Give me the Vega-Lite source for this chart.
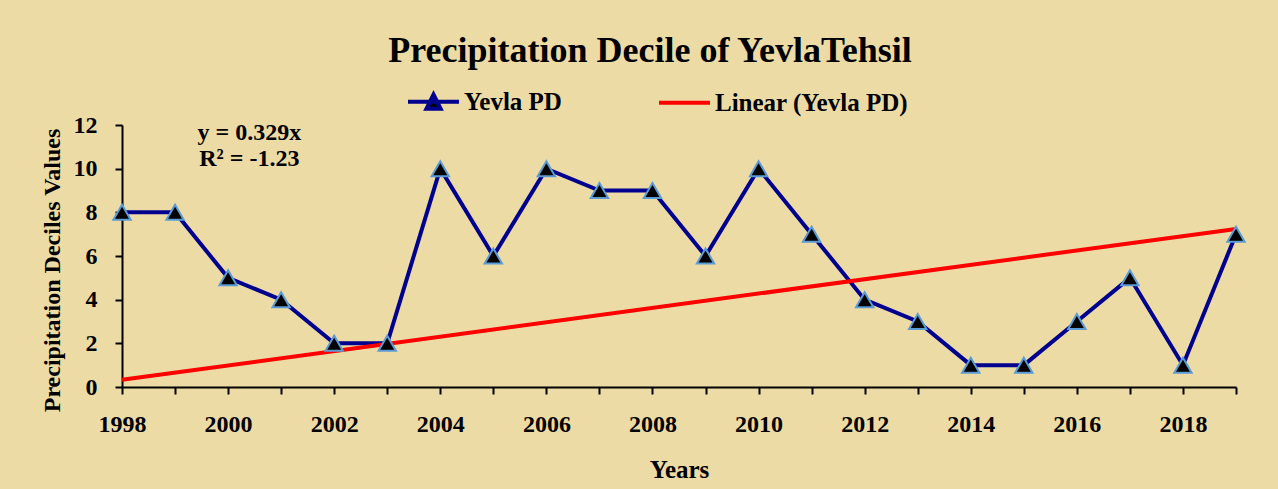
{
  "$schema": "https://vega.github.io/schema/vega-lite/v6.json",
  "autosize": {"type": "none"},
  "padding": {"left": 122, "top": 125, "right": 42, "bottom": 102},
  "width": 1114,
  "height": 262,
  "background": "#EDDBA6",
  "config": {
    "view": {"stroke": null},
    "font": "Liberation Serif",
    "axis": {
      "domainColor": "#000000",
      "domainWidth": 2,
      "tickColor": "#000000",
      "tickWidth": 2,
      "tickSize": 7,
      "grid": false,
      "labelFont": "Liberation Serif",
      "labelFontWeight": "bold",
      "labelFontSize": 24,
      "labelColor": "#000000",
      "titleFont": "Liberation Serif",
      "titleFontWeight": "bold",
      "titleFontSize": 25,
      "titleColor": "#000000"
    }
  },
  "title": {
    "text": "Precipitation Decile of YevlaTehsil",
    "font": "Liberation Serif",
    "fontSize": 36,
    "fontWeight": "bold",
    "color": "#000000",
    "anchor": "middle",
    "frame": "group",
    "dx": -29,
    "offset": 4
  },
  "data": {
    "values": [
      {"year": 1998, "value": 8, "series": "Yevla PD"},
      {"year": 1999, "value": 8, "series": "Yevla PD"},
      {"year": 2000, "value": 5, "series": "Yevla PD"},
      {"year": 2001, "value": 4, "series": "Yevla PD"},
      {"year": 2002, "value": 2, "series": "Yevla PD"},
      {"year": 2003, "value": 2, "series": "Yevla PD"},
      {"year": 2004, "value": 10, "series": "Yevla PD"},
      {"year": 2005, "value": 6, "series": "Yevla PD"},
      {"year": 2006, "value": 10, "series": "Yevla PD"},
      {"year": 2007, "value": 9, "series": "Yevla PD"},
      {"year": 2008, "value": 9, "series": "Yevla PD"},
      {"year": 2009, "value": 6, "series": "Yevla PD"},
      {"year": 2010, "value": 10, "series": "Yevla PD"},
      {"year": 2011, "value": 7, "series": "Yevla PD"},
      {"year": 2012, "value": 4, "series": "Yevla PD"},
      {"year": 2013, "value": 3, "series": "Yevla PD"},
      {"year": 2014, "value": 1, "series": "Yevla PD"},
      {"year": 2015, "value": 1, "series": "Yevla PD"},
      {"year": 2016, "value": 3, "series": "Yevla PD"},
      {"year": 2017, "value": 5, "series": "Yevla PD"},
      {"year": 2018, "value": 1, "series": "Yevla PD"},
      {"year": 2019, "value": 7, "series": "Yevla PD"},
      {"year": 1998, "value": 0.33, "series": "Linear (Yevla PD)"},
      {"year": 2019, "value": 7.24, "series": "Linear (Yevla PD)"}
    ]
  },
  "encoding": {
    "x": {
      "field": "year",
      "type": "quantitative",
      "scale": {"domain": [1998, 2019], "nice": false, "zero": false},
      "axis": {
        "title": "Years",
        "values": [1998,1999,2000,2001,2002,2003,2004,2005,2006,2007,2008,2009,2010,2011,2012,2013,2014,2015,2016,2017,2018,2019],
        "labelExpr": "datum.value % 2 == 0 ? datum.label : ''",
        "format": "d",
        "labelPadding": 18,
        "titlePadding": 21,
        "labelFlush": false,
        "labelOverlap": false
      }
    },
    "y": {
      "field": "value",
      "type": "quantitative",
      "scale": {"domain": [0, 12], "nice": false},
      "axis": {
        "title": "Precipitation Deciles Values",
        "values": [0, 2, 4, 6, 8, 10, 12],
        "labelPadding": 18,
        "titlePadding": 9,
        "titleY": 145,
        "titleFontSize": 24
      }
    }
  },
  "layer": [
    {
      "mark": {"type": "line", "strokeWidth": 4},
      "encoding": {
        "color": {
          "field": "series",
          "type": "nominal",
          "scale": {"domain": ["Yevla PD", "Linear (Yevla PD)"], "range": ["#00008F", "#FF0000"]},
          "sort": ["Yevla PD", "Linear (Yevla PD)"],
          "legend": {
            "title": null,
            "orient": "none",
            "direction": "horizontal",
            "legendX": 284,
            "legendY": -51,
            "padding": 0,
            "labelFont": "Liberation Serif",
            "labelFontWeight": "bold",
            "labelFontSize": 25,
            "labelColor": "#000000",
            "labelLimit": 400,
            "symbolSize": 2600,
            "symbolStrokeWidth": 4,
            "columnPadding": 89,
            "labelOffset": 3,
            "encode": {
              "symbols": {
                "update": {
                  "shape": {"signal": "datum.value == 'Yevla PD' ? 'M-1,0L1,0M-0.28,0.28L0,-0.28L0.28,0.28Z' : 'stroke'"},
                  "fill": {"signal": "datum.value == 'Yevla PD' ? '#000000' : 'transparent'"}
                }
              }
            }
          }
        }
      }
    },
    {
      "transform": [{"filter": "datum.series == 'Yevla PD'"}],
      "mark": {"type": "point", "shape": "triangle-up", "filled": true, "fill": "#000000", "stroke": "#5B9BD5", "strokeWidth": 2, "size": 300, "opacity": 1}
    },
    {
      "data": {
        "values": [
          {"year": 2000.4, "value": 11.63, "label": "y = 0.329x"},
          {"year": 2000.4, "value": 10.45, "label": "R² = -1.23"}
        ]
      },
      "mark": {"type": "text", "font": "Liberation Serif", "fontWeight": "bold", "fontSize": 24, "color": "#000000", "baseline": "middle", "align": "center"},
      "encoding": {
        "text": {"field": "label", "type": "nominal"}
      }
    }
  ]
}
